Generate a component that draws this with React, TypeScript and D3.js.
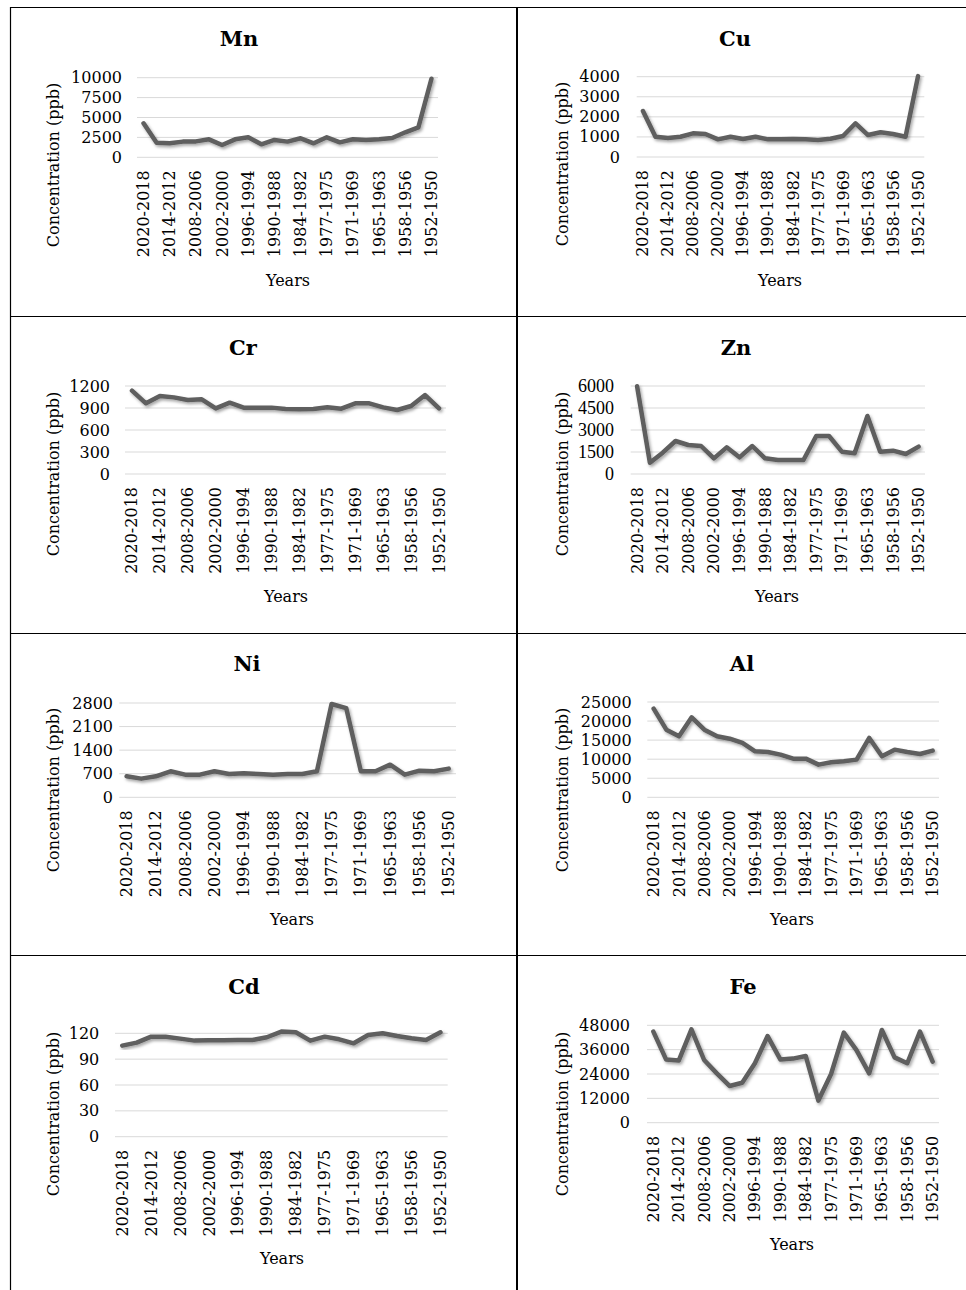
import React from 'react';
import * as d3 from 'd3';

// 23 periods, newest first; only every other one is labelled on the axis
const years = [
  '2020-2018', '2017-2015', '2014-2012', '2011-2009', '2008-2006', '2005-2003',
  '2002-2000', '1999-1997', '1996-1994', '1993-1991', '1990-1988', '1987-1985',
  '1984-1982', '1981-1978', '1977-1975', '1974-1972', '1971-1969', '1968-1966',
  '1965-1963', '1962-1959', '1958-1956', '1955-1953', '1952-1950'
];

const mn = [4270, 1840, 1760, 1970, 2000, 2260, 1550, 2260, 2510, 1630, 2180, 1970,
  2390, 1760, 2510, 1880, 2260, 2180, 2260, 2430, 3140, 3770, 9870];
const cu = [2290, 1010, 950, 1010, 1180, 1145, 880, 1010, 900, 1010, 880, 880,
  895, 880, 850, 910, 1045, 1680, 1095, 1230, 1145, 1010, 4030];
const cr = [1136, 964, 1064, 1045, 1009, 1018, 895, 973, 905, 905, 905, 886,
  882, 886, 909, 891, 964, 964, 909, 873, 927, 1077, 895];
const zn = [5980, 770, 1455, 2250, 1977, 1909, 1068, 1818, 1136, 1909, 1068, 955,
  955, 955, 2590, 2590, 1523, 1409, 3955, 1523, 1590, 1364, 1864];
const ni = [623, 554, 623, 772, 673, 673, 772, 692, 712, 692, 673, 692,
  692, 772, 2770, 2650, 772, 772, 969, 673, 791, 772, 851];
const al = [23250, 17750, 16000, 20980, 17750, 16000, 15380, 14250, 12060, 11890, 11190, 10140,
  10140, 8570, 9180, 9440, 9880, 15560, 10750, 12500, 11890, 11360, 12240];
const cd = [105.7, 109.2, 116.1, 116.1, 113.8, 111.5, 111.9, 111.9, 112.3, 112.3, 115.4, 122,
  121.2, 111.5, 116.1, 113, 108.4, 118, 120, 116.9, 114.2, 112.3, 121.2];
const fe = [44900, 31200, 30600, 46000, 30900, 24300, 18100, 19700, 29300, 42700, 31200, 31600,
  32900, 10900, 24000, 44400, 35800, 24300, 45700, 32200, 29300, 44900, 30100];

const mnTicks = [0, 2500, 5000, 7500, 10000];
const cuTicks = [0, 1000, 2000, 3000, 4000];
const crTicks = [0, 300, 600, 900, 1200];
const znTicks = [0, 1500, 3000, 4500, 6000];
const niTicks = [0, 700, 1400, 2100, 2800];
const alTicks = [0, 5000, 10000, 15000, 20000, 25000];
const cdTicks = [0, 30, 60, 90, 120];
const feTicks = [0, 12000, 24000, 36000, 48000];

const FONT = '"DejaVu Serif", Georgia, serif';
const TIMES = '"Liberation Serif", "Times New Roman", serif';

type Panel = {
  title: string; values: number[]; ticks: number[];
  x0: number; x1: number; yTop: number; yBot: number; tickX: number;
  titleX: number; titleY: number; yLabX: number; yLabY: number;
  yearsX: number; yearsY: number; tickFont?: string;
};

const panels: Panel[] = [
  { title: 'Mn', values: mn, ticks: mnTicks, x0: 137, x1: 438, yTop: 77.7, yBot: 157.3, tickX: 122,
    titleX: 239, titleY: 46, yLabX: 53, yLabY: 165, yearsX: 288, yearsY: 286 },
  { title: 'Cu', values: cu, ticks: cuTicks, x0: 636.7, x1: 924.3, yTop: 76.7, yBot: 157, tickX: 620,
    titleX: 735, titleY: 46, yLabX: 562, yLabY: 164, yearsX: 780, yearsY: 286 },
  { title: 'Cr', values: cr, ticks: crTicks, x0: 125, x1: 446, yTop: 386, yBot: 474, tickX: 110,
    titleX: 243, titleY: 355, yLabX: 53, yLabY: 474, yearsX: 286, yearsY: 602 },
  { title: 'Zn', values: zn, ticks: znTicks, x0: 630.7, x1: 925, yTop: 386, yBot: 474, tickX: 614,
    titleX: 736, titleY: 355, yLabX: 562, yLabY: 474, yearsX: 777, yearsY: 602, tickFont: TIMES },
  { title: 'Ni', values: ni, ticks: niTicks, x0: 119.3, x1: 456, yTop: 703, yBot: 797.3, tickX: 113,
    titleX: 247, titleY: 671, yLabX: 53, yLabY: 790, yearsX: 292, yearsY: 925 },
  { title: 'Al', values: al, ticks: alTicks, x0: 647.3, x1: 939, yTop: 702, yBot: 797.3, tickX: 631.7,
    titleX: 742, titleY: 671, yLabX: 562, yLabY: 790, yearsX: 792, yearsY: 925 },
  { title: 'Cd', values: cd, ticks: cdTicks, x0: 115, x1: 447.7, yTop: 1033.3, yBot: 1136.7, tickX: 99.3,
    titleX: 244, titleY: 994, yLabX: 53, yLabY: 1114, yearsX: 282, yearsY: 1264 },
  { title: 'Fe', values: fe, ticks: feTicks, x0: 647, x1: 939, yTop: 1025.3, yBot: 1122.7, tickX: 630,
    titleX: 743, titleY: 994, yLabX: 562, yLabY: 1114, yearsX: 792, yearsY: 1250 },
];

function LineChart({ p }: { p: Panel }) {
  const x = d3.scaleBand().domain(years).range([p.x0, p.x1]);
  const y = d3.scaleLinear().domain([0, d3.max(p.ticks) as number]).range([p.yBot, p.yTop]);
  const line = d3.line<number>()
    .x((d, i) => (x(years[i]) as number) + x.bandwidth() / 2)
    .y(d => y(d));
  return (
    <g fontFamily={FONT} fill="#000">
      <text x={p.titleX} y={p.titleY} textAnchor="middle" fontSize={21} fontWeight="bold">{p.title}</text>
      {p.ticks.map(t => (
        <g key={t}>
          <line x1={p.x0} x2={p.x1} y1={y(t)} y2={y(t)} stroke="#d9d9d9" strokeWidth={1} />
          <text x={p.tickX} y={y(t)} textAnchor="end" dominantBaseline="central"
            fontFamily={p.tickFont || FONT} fontSize={p.tickFont ? 18 : 16}>{t}</text>
        </g>
      ))}
      {years.map((yr, i) => i % 2 === 0 ? (
        <text key={yr} transform={`translate(${(x(yr) as number) + x.bandwidth() / 2},${p.yBot + 13}) rotate(-90)`}
          textAnchor="end" dominantBaseline="central" fontSize={16}>{yr}</text>
      ) : null)}
      <path d={line(p.values) || ''} fill="none" stroke="#5e5e5e" strokeWidth={4.5}
        strokeLinejoin="round" strokeLinecap="round" filter="url(#shadow)" />
      <text transform={`translate(${p.yLabX},${p.yLabY}) rotate(-90)`} textAnchor="middle"
        dominantBaseline="central" fontSize={16}>Concentration (ppb)</text>
      <text x={p.yearsX} y={p.yearsY} textAnchor="middle" fontSize={16}>Years</text>
    </g>
  );
}

export default function App() {
  const hLines = [7, 316, 633, 955];
  return (
    <svg width={966} height={1290} style={{ position: 'absolute', left: 0, top: 0, display: 'block', background: '#fff' }}>
      <defs>
        <filter id="shadow" x="-10%" y="-30%" width="120%" height="160%">
          <feDropShadow dx={1.5} dy={2} stdDeviation={1.8} floodColor="#000" floodOpacity={0.35} />
        </filter>
      </defs>
      <rect width={966} height={1290} fill="#fff" />
      {hLines.map(yy => (
        <line key={yy} x1={10} x2={966} y1={yy + 0.5} y2={yy + 0.5} stroke="#000" strokeWidth={1.2} />
      ))}
      <line x1={10.5} x2={10.5} y1={7} y2={1290} stroke="#000" strokeWidth={1.2} />
      <line x1={517} x2={517} y1={7} y2={1290} stroke="#000" strokeWidth={2} />
      {panels.map(p => <LineChart key={p.title} p={p} />)}
    </svg>
  );
}
